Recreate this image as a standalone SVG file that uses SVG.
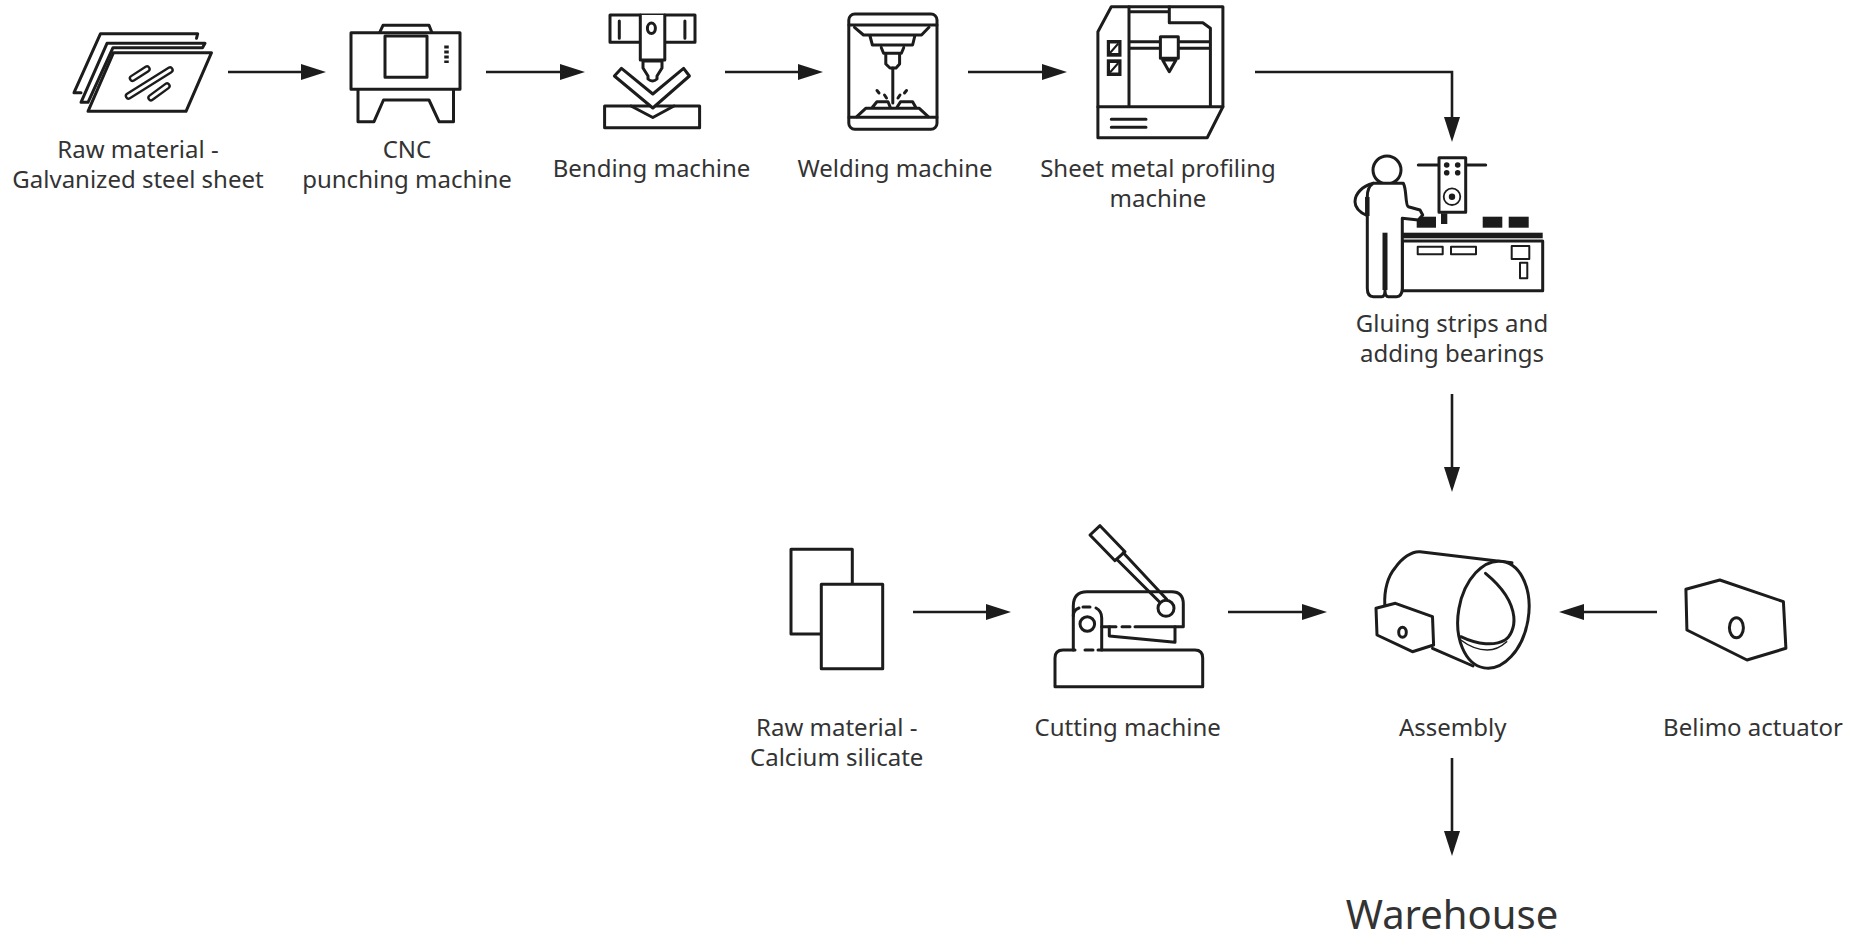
<svg xmlns="http://www.w3.org/2000/svg" width="1854" height="942" viewBox="0 0 1854 942">
<style>
.bg{fill:#fff}
.s{fill:#fff;stroke:#1c1c1c;stroke-width:3;stroke-linejoin:round;stroke-linecap:round}
.n{fill:none;stroke:#1c1c1c;stroke-width:3;stroke-linejoin:round;stroke-linecap:round}
.k{fill:#1c1c1c;stroke:none}
.c{fill:none;stroke:#1c1c1c;stroke-width:2.6;marker-end:url(#arrow)}
text{font-family:"Noto Sans","Liberation Sans",sans-serif;font-size:24px;fill:#333;text-anchor:middle}
.big{font-size:40px}
</style>
<defs>
<marker id="arrow" markerUnits="userSpaceOnUse" markerWidth="26" markerHeight="18" refX="3" refY="8" orient="auto">
<polygon points="0,0 25,8 0,16" fill="#1c1c1c"/>
</marker>
</defs>
<rect class="bg" width="1854" height="942"/>
<g id="connectors">
<path class="c" d="M228 72H304"/>
<path class="c" d="M486 72H563"/>
<path class="c" d="M725 72H801"/>
<path class="c" d="M968 72H1045"/>
<path class="c" d="M1255 72H1452V120"/>
<path class="c" d="M1452 394V470"/>
<path class="c" d="M913 612H989"/>
<path class="c" d="M1228 612H1305"/>
<path class="c" d="M1657 612H1581"/>
<path class="c" d="M1452 758V834"/>
</g>
<g id="raw-steel">
<path class="n" d="M74 92.7 100.5 33.7H197.7L196.5 38.3M74 92.7H81"/>
<path class="s" d="M81 102.3 107 43.3H205L202.5 47.7H113L88 102.3Z"/>
<path class="s" d="M113.5 52.7H211.5L186 111.3H88Z"/>
<path d="M132.5 78.3 147 69M128.5 96 170 70M151 97.7 167 86" fill="none" stroke="#1c1c1c" stroke-width="7.5" stroke-linecap="round"/>
<path d="M132.5 78.3 147 69M128.5 96 170 70M151 97.7 167 86" fill="none" stroke="#fff" stroke-width="2.8" stroke-linecap="round"/>
<text x="138" y="158">Raw material -</text>
<text x="138" y="188">Galvanized steel sheet</text>
</g>
<g id="cnc">
<path class="s" d="M379.6 32.7 383 25.3H429L432 32.7"/>
<rect class="s" x="351" y="32.7" width="109" height="56.6"/>
<rect class="n" x="385" y="36" width="42" height="41.3"/>
<path d="M446.5 45.5V63" stroke="#1c1c1c" stroke-width="4.5" stroke-dasharray="3 2" fill="none"/>
<path class="n" d="M358 90V121.7H374L383.5 100H429L439 121.7H453.5V90"/>
<text x="407" y="158">CNC</text>
<text x="407" y="188">punching machine</text>
</g>
<g id="bending">
<rect class="s" x="610" y="15" width="85" height="27.3"/>
<path class="s" d="M640.3 15V60H664.8V15"/>
<ellipse class="n" cx="651.4" cy="28.3" rx="4" ry="5.2"/>
<path class="n" d="M619.3 21V38.3M684.9 21V38.3"/>
<rect class="s" x="604.6" y="106" width="95" height="21.7"/>
<path class="s" d="M614.4 76 621.5 68.3 652.8 94 683.6 68.3 689.4 76 652.8 108Z"/>
<path class="n" d="M631 106 652.8 117.5 674 106"/>
<path class="s" d="M643 61V68L648 76V79Q652.5 83 657 79V76L662 68V61Z"/>
<text x="651.5" y="176.5">Bending machine</text>
</g>
<g id="welding">
<rect class="n" x="848.8" y="14" width="88.2" height="115.3" rx="6"/>
<path class="n" d="M849 25H937M849 117.3H937"/>
<path class="n" d="M854.5 27.3 863.5 35H921.5L929 27.3M870 36 872.4 45H912.6L914.8 36M881.3 47.7 883.6 53.3H901.4L903.7 47.7M885.8 55V64L890 68H896L899.6 64V55"/>
<path class="n" d="M892.8 68V103"/>
<path class="n" d="M856.8 116.7 865.7 108.3H919.3L928.2 116.7M872.4 107.3 876.9 101.7H888L890.3 107.3M897 107.3 900.5 101.7H912.6L915.7 107.3"/>
<path class="n" d="M877 90.5 879 93M884.5 95 886.5 98M906.5 90.5 904.5 93M900 95 898 98"/>
<text x="895" y="176.5">Welding machine</text>
</g>
<g id="profiling">
<path class="n" d="M1097.9 31.7 1111.3 6.7H1222.9V106.7L1207.2 137.7H1097.9Z"/>
<path class="n" d="M1097.9 106.7H1222.9M1129 6.7V106.7M1129 11.7H1169.3M1169.3 6.7V22.7H1202.8L1210.4 28.3V106.7M1129 41.7H1210M1129 48.3H1210"/>
<rect class="s" x="1160.4" y="36.7" width="17.9" height="21.6"/>
<path class="s" d="M1162.6 60H1176L1169.3 71.7Z"/>
<rect class="k" x="1106.8" y="40" width="14.7" height="16.7"/>
<rect class="k" x="1106.8" y="59.3" width="14.7" height="16.7"/>
<path d="M1110 43.5H1118.3V53H1110ZM1110 63H1118.3V72.5H1110Z" fill="#fff"/>
<path d="M1110 53 1118.3 43.5M1110 72.5 1118.3 63" stroke="#1c1c1c" stroke-width="2" fill="none"/>
<path class="n" d="M1111.3 119.3H1146M1111.3 127.3H1146"/>
<text x="1158" y="176.5">Sheet metal profiling</text>
<text x="1158" y="206.5">machine</text>
</g>
<g id="gluing">
<rect class="k" x="1416.7" y="216.7" width="19.3" height="11"/>
<rect class="k" x="1482.7" y="216.7" width="19.6" height="11"/>
<rect class="k" x="1508.7" y="216.7" width="20" height="11"/>
<rect class="k" x="1441" y="213.3" width="6.3" height="10.7"/>
<rect class="k" x="1402.3" y="232.7" width="140.4" height="5.6"/>
<rect class="n" x="1402.3" y="241" width="140.4" height="49.7"/>
<rect class="n" x="1417.7" y="246.7" width="25" height="7.6" style="stroke-width:2"/>
<rect class="n" x="1451" y="246.7" width="25" height="7.6" style="stroke-width:2"/>
<rect class="n" x="1511.7" y="246" width="17.6" height="13" style="stroke-width:2"/>
<rect class="n" x="1520" y="262.7" width="7.3" height="15.6" style="stroke-width:2"/>
<path class="n" d="M1418.3 165H1485.7"/>
<rect class="s" x="1439" y="157.7" width="26.7" height="54.6"/>
<circle class="k" cx="1446.7" cy="165" r="2.8"/>
<circle class="k" cx="1457.7" cy="165" r="2.8"/>
<circle class="k" cx="1446.7" cy="172.7" r="2.8"/>
<circle class="k" cx="1457.7" cy="172.7" r="2.8"/>
<circle class="n" cx="1452" cy="196.7" r="8.3" style="stroke-width:1.8"/>
<circle class="k" cx="1452" cy="196.7" r="3.2"/>
<circle class="s" cx="1387" cy="170" r="14"/>
<path class="n" d="M1373.3 183.3C1362 186 1355 194 1355 201.7 1355 208 1361 213 1367.3 215.7"/>
<path class="s" d="M1373.3 183.3H1403.3C1407 190 1405 205 1408.3 206.7L1420 210 1422.7 215 1418.3 220 1402.3 218.3V288.3Q1402 296.7 1396.7 296.7H1388.3Q1385 296.7 1385 290 1385 296.7 1381.7 296.7H1373.3Q1367.3 296.7 1367.3 288.3V196.7C1367.3 190 1369 186 1373.3 183.3Z"/>
<path d="M1367.3 197V216" stroke="#1c1c1c" stroke-width="4.5" fill="none"/>
<path d="M1385 232.7V290" stroke="#1c1c1c" stroke-width="5" fill="none"/>
<text x="1452" y="332">Gluing strips and</text>
<text x="1452" y="361.5">adding bearings</text>
</g>
<g id="raw-calcium">
<rect class="s" x="791" y="549.3" width="61.3" height="84.7"/>
<rect class="s" x="821.3" y="584.3" width="61.4" height="84.4"/>
<text x="836.7" y="736">Raw material -</text>
<text x="836.7" y="766">Calcium silicate</text>
</g>
<g id="cutting">
<path class="n" d="M1098 650H1195Q1202.7 650 1202.7 658V686.7H1055V658Q1055 650 1063 650H1075M1085 650H1093"/>
<path class="n" d="M1073.3 650V606Q1073.3 591.7 1087 591.7H1171.7Q1183.3 591.7 1183.3 604V626.7H1135M1130 626.7H1122M1116 626.7H1101.7"/>
<path class="n" d="M1073.3 616C1073.3 612 1076 609 1079 608M1083 607H1090M1096 608C1100 610 1101.7 613 1101.7 618V650"/>
<circle class="n" cx="1087.3" cy="624" r="7.3"/>
<path class="n" d="M1109.3 626.7V636L1175 642.3V626.7"/>
<path class="s" d="M1090 535 1100 525.7 1125 551.7 1115 560.7Z"/>
<path class="n" d="M1116.7 559.3 1159.3 601.7M1123.3 552.7 1166.7 599.3"/>
<circle class="s" cx="1166" cy="608.3" r="8"/>
<text x="1127.7" y="736">Cutting machine</text>
</g>
<g id="assembly">
<path class="n" d="M1384.8 605C1384 590 1388 576 1395 568 1402 558 1412 551 1420 551.7L1512 562.7M1432.5 648.3 1473 666"/>
<ellipse class="s" cx="1493.4" cy="614.7" rx="35" ry="54" transform="rotate(10 1493.4 614.7)"/>
<path class="n" d="M1485.5 573.3C1501 586 1512 600 1513.8 616.7 1515 628 1510 637 1505 640 1495 646 1478 645 1460.8 636.7"/>
<path class="n" style="stroke-width:1.5" d="M1460.8 640C1470 647 1480 650 1487.3 650 1495 650 1502 646 1506.7 641.7"/>
<path class="s" d="M1376 608.3 1395.4 603.3 1432.5 616.7 1433.6 645 1412.4 651.7 1377 635Z"/>
<ellipse class="n" cx="1402.5" cy="632.3" rx="3.8" ry="5"/>
<text x="1452.7" y="736">Assembly</text>
</g>
<g id="actuator">
<path class="n" d="M1685.9 589.3 1719.8 580 1783.4 601.7 1785.9 648.3 1747 660 1686.9 630Z"/>
<ellipse class="n" cx="1736.4" cy="627.7" rx="7" ry="10"/>
<text x="1753" y="736">Belimo actuator</text>
</g>
<g id="warehouse">
<text class="big" x="1452" y="929">Warehouse</text>
</g>
</svg>
